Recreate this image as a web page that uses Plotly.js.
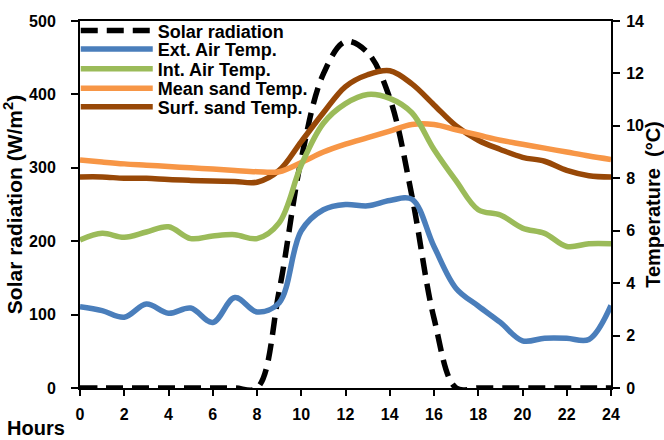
<!DOCTYPE html>
<html>
<head>
<meta charset="utf-8">
<script src="https://cdn.plot.ly/plotly-3.0.1.min.js"></script>
<style>html,body{margin:0;padding:0;background:#fff;}#chart{width:664px;height:440px;}</style>
</head>
<body>
<div id="chart"></div>
<script>
const hours = [0,1,2,3,4,5,6,7,8,9,10,11,12,13,14,15,16,17,18,19,20,21,22,23,24];
const solarRadiation = [0,0,0,0,0,0,0,0,0,132,312,428,472,457,395,262,95,0,0,0,0,0,0,0,0];
const extAirTemp = [3.1,2.95,2.7,3.2,2.85,3.05,2.5,3.45,2.9,3.25,6.0,6.8,7.0,6.95,7.15,7.2,5.4,3.8,3.13,2.5,1.8,1.9,1.9,1.85,3.15];
const intAirTemp = [5.65,5.9,5.75,5.95,6.15,5.7,5.8,5.85,5.7,6.3,8.5,10.1,10.85,11.2,11.05,10.5,9.1,7.9,6.8,6.6,6.1,5.9,5.4,5.5,5.5];
const meanSandTemp = [8.7,8.62,8.55,8.5,8.45,8.4,8.35,8.3,8.25,8.25,8.6,9.0,9.3,9.55,9.8,10.05,10.05,9.85,9.65,9.45,9.3,9.15,9.0,8.85,8.72];
const surfSandTemp = [8.05,8.05,8.0,8.0,7.95,7.92,7.9,7.88,7.85,8.3,9.4,10.5,11.5,11.95,12.1,11.6,10.8,10.0,9.45,9.1,8.8,8.65,8.3,8.1,8.05];
const seriesNames = ["Solar radiation","Ext. Air Temp.","Int. Air Temp.","Mean sand Temp.","Surf. sand Temp."];
const xTicks = [0,2,4,6,8,10,12,14,16,18,20,22,24];

const FONT = "Liberation Sans, Arial, sans-serif";
const colors = ["#000000","#4A7EBB","#9BBB59","#F79646","#984807"];
const legendIds = ["legend","legend2","legend3","legend4","legend5"];
const seriesData = [solarRadiation, extAirTemp, intAirTemp, meanSandTemp, surfSandTemp];

// draw temperature first, solar on top
const order = [4,3,2,1,0];
const traces = order.map(i => ({
  x: hours,
  y: seriesData[i],
  name: seriesNames[i],
  type: "scatter",
  mode: "lines",
  yaxis: i === 0 ? "y" : "y2",
  legend: legendIds[i],
  line: {color: colors[i], width: 5.5, shape: "spline", smoothing: 1,
         dash: i === 0 ? "17px,9px" : "solid"},
  hoverinfo: "skip"
}));

const legendY = [23, 42, 62, 82, 101];
const plotTop = 13, plotBottom = 388;
const layout = {
  width: 664, height: 440,
  margin: {l: 80, r: 53, t: 13, b: 52},
  paper_bgcolor: "#ffffff",
  plot_bgcolor: "#ffffff",
  font: {family: FONT, size: 16, color: "#000", weight: "bold"},
  showlegend: true,
  xaxis: {
    range: [0, 24], tickvals: xTicks, ticktext: xTicks.map(String),
    showline: true, linecolor: "#000", linewidth: 2, mirror: true,
    ticks: "outside", ticklen: 6, tickwidth: 2, tickcolor: "#000",
    showgrid: false, zeroline: false,
    tickfont: {family: FONT, size: 16, weight: "bold", color: "#000"},
    ticklabelstandoff: 5
  },
  yaxis: {
    range: [0, 500], dtick: 100, tick0: 0,
    showline: true, linecolor: "#000", linewidth: 2,
    ticks: "outside", ticklen: 7, tickwidth: 2, tickcolor: "#000",
    showgrid: false, zeroline: false,
    tickfont: {family: FONT, size: 16, weight: "bold", color: "#000"},
    ticklabelstandoff: 12,
    title: {text: "Solar radiation (W/m<sup>2</sup>)", font: {family: FONT, size: 21, weight: "bold", color: "#000"}, standoff: 2}
  },
  yaxis2: {
    range: [0, 14], dtick: 2, tick0: 0, overlaying: "y", side: "right",
    showline: true, linecolor: "#000", linewidth: 2,
    ticks: "outside", ticklen: 7, tickwidth: 2, tickcolor: "#000",
    showgrid: false, zeroline: false,
    tickfont: {family: FONT, size: 16, weight: "bold", color: "#000"},
    ticklabelstandoff: 3,
    title: {text: "Temperature  (°C)", font: {family: FONT, size: 20, weight: "bold", color: "#000"}, standoff: 8}
  },
  annotations: [{
    text: "Hours", xref: "paper", yref: "paper",
    x: (36 - 80) / 531, y: (plotBottom - 429) / (plotBottom - plotTop),
    xanchor: "center", yanchor: "middle", showarrow: false,
    font: {family: FONT, size: 20, weight: "bold", color: "#000"}
  }]
};
legendIds.forEach((id, i) => {
  layout[id] = {
    x: -0.008, xanchor: "left",
    y: (plotBottom - legendY[i]) / (plotBottom - plotTop), yanchor: "middle",
    bgcolor: "rgba(0,0,0,0)", borderwidth: 0,
    itemwidth: 72,
    font: {family: FONT, size: 18, weight: "bold", color: "#000"}
  };
});

Plotly.newPlot("chart", traces, layout, {displayModeBar: false, staticPlot: true});
</script>
</body>
</html>
